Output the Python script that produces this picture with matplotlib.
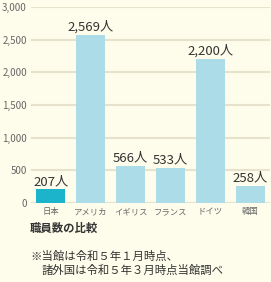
import matplotlib
matplotlib.use("Agg")
import matplotlib.pyplot as plt

plt.rcParams['font.family'] = ['Noto Sans CJK JP', 'DejaVu Sans']

categories = ["日本", "アメリカ", "イギリス", "フランス", "ドイツ", "韓国"]
values = [207, 2569, 566, 533, 2200, 258]
value_labels = ["207人", "2,569人", "566人", "533人", "2,200人", "258人"]
yticks = [0, 500, 1000, 1500, 2000, 2500, 3000]
ytick_labels = ["0", "500", "1,000", "1,500", "2,000", "2,500", "3,000"]
colors = ["#1BB4CB", "#ADDCE9", "#ADDCE9", "#ADDCE9", "#ADDCE9", "#ADDCE9"]

bg = "#FEFDEB"
fig = plt.figure(figsize=(2.71, 2.82), dpi=100, facecolor=bg)
ax = fig.add_axes([31/271, 1-203/282, (270-31)/271, (203-7)/282], facecolor=bg)

x = range(len(categories))
ax.bar(x, values, width=0.73, color=colors, zorder=3)
for xi, v, lab in zip(x, values, value_labels):
    ax.text(xi, v + 20, lab, ha='center', va='bottom', fontsize=9.5, color='#333333', zorder=4)

ax.set_ylim(0, 3000)
ax.set_xlim(-0.5, len(categories) - 0.5)
ax.set_yticks(yticks)
ax.set_yticklabels(ytick_labels)
ax.set_xticks(list(x))
ax.set_xticklabels(categories)
ax.tick_params(axis='y', length=0, labelsize=7, labelcolor='#666666', pad=3)
ax.tick_params(axis='x', length=0, labelsize=6, labelcolor='#666666', pad=3)
ax.grid(axis='y', color='#E6E2CC', linewidth=1.5, zorder=0)
for s in ax.spines.values():
    s.set_visible(False)

fig.text(30/271, 1-228/282, "職員数の比較", fontsize=8.2, fontweight='bold', color='#333333', va='center')
fig.text(30/271, 1-256/282, "※当館は令和５年１月時点、", fontsize=8.2, color='#333333', va='center')
fig.text(42/271, 1-270/282, "諸外国は令和５年３月時点当館調べ", fontsize=8.2, color='#333333', va='center')

fig.savefig("out.png", dpi=100, facecolor=bg)
